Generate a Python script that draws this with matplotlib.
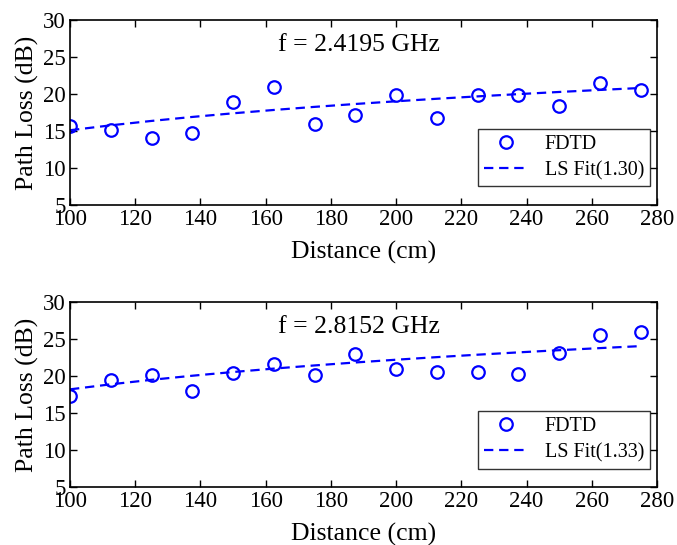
import matplotlib
matplotlib.use('Agg')
import matplotlib.pyplot as plt
import numpy as np

plt.rcParams['font.family'] = ['Liberation Serif', 'DejaVu Serif']
plt.rcParams['mathtext.fontset'] = 'stix'

# distances (cm)
distance = [100, 112.5, 125, 137.5, 150, 162.5, 175, 187.5, 200, 212.5, 225, 237.5, 250, 262.5, 275]

# FDTD path loss (dB)
loss_24 = [15.7, 15.1, 14.0, 14.7, 18.9, 21.0, 15.9, 17.1, 19.9, 16.7, 19.9, 19.8, 18.4, 21.5, 20.5]
loss_28 = [17.3, 19.5, 20.2, 18.0, 20.45, 21.6, 20.2, 23.0, 21.0, 20.5, 20.6, 20.3, 23.15, 25.5, 25.9]

# LS fit parameters: path loss exponent n and loss at 100 cm
fit_n = [1.30, 1.33]
fit_pl0 = [15.1, 18.2]

freq_labels = ['f = 2.4195 GHz', 'f = 2.8152 GHz']
xticks = [100, 120, 140, 160, 180, 200, 220, 240, 260, 280]
yticks = [5, 10, 15, 20, 25, 30]

fig = plt.figure(figsize=(6.77, 5.45), dpi=100)
ax_top = fig.add_axes([0.1034, 0.6239, 0.867, 0.3394])
ax_bot = fig.add_axes([0.1034, 0.1064, 0.867, 0.3394])

series = [loss_24, loss_28]
for i, ax in enumerate([ax_top, ax_bot]):
    d = np.array(distance)
    fit = fit_pl0[i] + 10 * fit_n[i] * np.log10(d / 100.0)
    ax.plot(d, series[i], 'o', mfc='none', mec='blue', ms=9, mew=1.6, label='FDTD')
    ax.plot(d, fit, '--', color='blue', lw=1.6, dashes=(4.2, 2.6),
            label='LS Fit(%.2f)' % fit_n[i])
    ax.set_xlim(100, 280)
    ax.set_ylim(5, 30)
    ax.set_xticks(xticks)
    ax.set_yticks(yticks)
    ax.tick_params(direction='in', top=True, right=True, labelsize=16.5,
                   length=5, width=1, pad=3)
    for s in ax.spines.values():
        s.set_linewidth(1.2)
    ax.set_xlabel('Distance (cm)', fontsize=18.5, labelpad=8)
    ax.set_ylabel('Path Loss (dB)', fontsize=18.5, labelpad=3)
    ax.text(188.5, 26.6, freq_labels[i], fontsize=18.5, ha='center', va='center')
    leg = ax.legend(loc='lower right', bbox_to_anchor=(0.988, 0.1), fontsize=14.5,
                    frameon=True, fancybox=False, edgecolor='black',
                    handlelength=2.2, borderpad=0.3, labelspacing=0.35,
                    handletextpad=0.8, borderaxespad=0.0)
    leg.get_frame().set_linewidth(1.0)

fig.savefig('out.png', dpi=100)
